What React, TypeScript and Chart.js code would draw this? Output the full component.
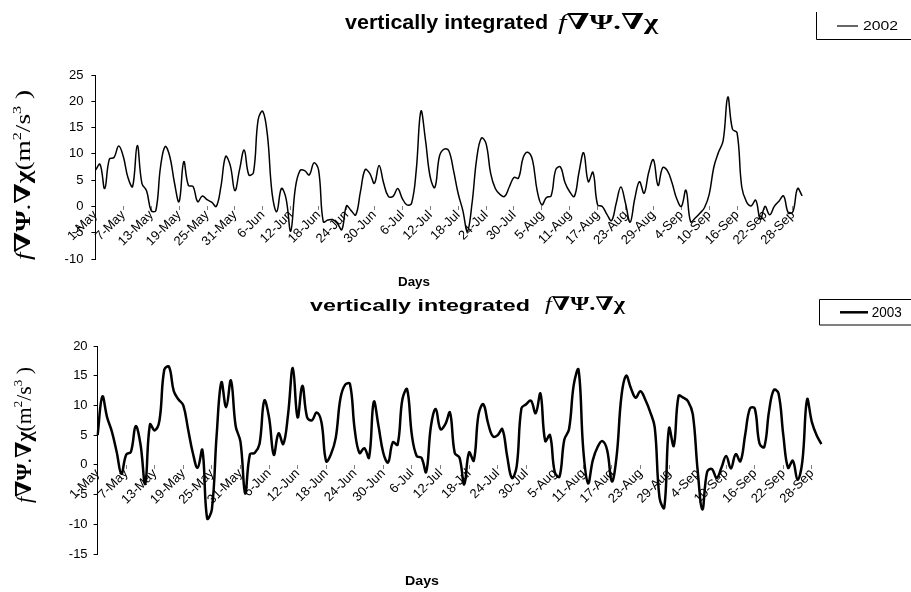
import React, { useEffect, useRef } from 'react';
import { Chart, registerables } from 'chart.js';

Chart.register(...registerables);

// ---------- categories ----------
const MONTHS = ['May', 'Jun', 'Jul', 'Aug', 'Sep'];
const MONTH_LENGTHS = [31, 30, 31, 31, 30];
const DAYS: string[] = [];
MONTHS.forEach((m, k) => {
  for (let d = 1; d <= MONTH_LENGTHS[k]; d++) DAYS.push(`${d}-${m}`);
});
const LABEL_EVERY = 6;

// ---------- series ----------
const SERIES_2002 = [
  6.9, 8.0, 3.4, 9.0, 9.3, 11.5, 9.5, 5.5, 3.8, 11.6,
  4.4, 3.0, -0.8, -0.8, 7.5, 11.4, 9.5, 4.5, 0.9, 8.5,
  4.0, 3.8, 0.9, 2.0, 1.3, 0.8, 0.0, 3.8, 9.5, 7.8,
  3.0, 7.0, 10.7, 6.0, 6.5, 16.5, 18.1, 13.5, 2.5, -1.0,
  3.4, 1.5, -4.7, 3.5, 6.8, 6.8, 6.0, 8.3, 6.9, -2.9,
  -2.6, -2.5, -3.2, -4.4, 0.1, -0.8, -1.6, 2.8, 7.0, 6.3,
  4.4, 7.8, 4.4, 1.9, 1.9, 3.4, 1.5, 0.3, 0.6, 6.9,
  18.1, 12.5, 5.6, 3.6, 9.6, 10.9, 10.6, 6.9, 2.5, -0.7,
  -4.7, 0.6, 9.1, 13.0, 12.0, 6.3, 3.4, 2.3, 1.9, 3.7,
  5.5, 5.4, 9.3, 10.3, 8.8, 3.0, 0.3, 1.7, 2.0, 7.0,
  7.5, 4.5, 2.8, 1.9, 6.5, 10.2, 4.7, 6.5, 0.3, 0.0,
  -1.5, -2.7, 0.6, 3.7, 0.6, -3.0, 1.5, 4.7, 2.5, 6.5,
  8.9, 4.0, 7.4, 6.8, 4.5, 1.5, 0.0, 3.1, -2.9, -2.2,
  -1.3, -0.2, 2.3, 7.5, 10.3, 12.5, 20.8, 14.7, 14.0, 3.7,
  0.9, 0.1, 1.2, -2.5, 0.0, -1.6, 0.0, 1.0, 2.0, -1.2,
  -1.0, 3.4, 2.0,
];

const SERIES_2003 = [
  5.0, 11.5, 8.0, 5.6, 2.2, -1.5, 1.7, 2.2, 6.5, 3.5,
  -3.2, 6.8, 5.8, 7.5, 16.0, 16.5, 12.4, 11.0, 10.0, 6.0,
  2.0, -0.5, 2.5, -9.0, -7.5, 5.0, 13.9, 9.7, 14.2, 6.5,
  3.9, -4.8, 1.8, 2.0, 3.5, 10.8, 8.0, 1.7, 5.3, 3.5,
  8.5, 16.3, 8.0, 13.3, 8.0, 7.5, 8.8, 7.2, 0.6, 1.8,
  4.5, 11.2, 13.5, 13.6, 5.9, 2.0, 2.8, 1.2, 10.6, 6.5,
  2.0, 0.4, 3.8, 3.4, 11.0, 12.7, 5.0, 1.5, 1.2, -1.2,
  6.5, 9.4, 6.0, 6.8, 8.8, 2.0, 1.2, -3.3, 2.1, 0.7,
  8.5, 10.2, 7.0, 4.8, 5.0, 6.0, 1.5, -2.2, -0.3, 9.5,
  10.2, 10.8, 8.7, 12.0, 4.0, 5.0, -1.2, -2.0, 4.2, 6.0,
  13.5, 16.0, 2.5, -3.1, 0.8, 3.0, 4.0, 2.5, -2.8, 1.5,
  11.5, 15.0, 12.9, 11.3, 12.4, 11.0, 9.0, 6.3, -5.5, -7.2,
  6.2, 3.2, 11.6, 11.3, 10.7, 8.5, -0.8, -7.5, -1.2, -0.7,
  -2.2, -0.5, 1.5, -0.6, 1.8, 0.6, 5.1, 9.5, 9.5, 3.6,
  3.0, 9.0, 12.6, 12.0, 5.0, -0.5, 0.7, -2.5, 0.6, 11.0,
  7.2, 5.0, 3.5,
];

const Y_RANGE_2002 = [-10, 25];
const Y_RANGE_2003 = [-15, 20];
const Y_STEP = 5;

// ---------- fonts ----------
const SANS = '"Liberation Sans", Arial, Helvetica, sans-serif';
const SERIF = '"Liberation Serif", "DejaVu Serif", "Times New Roman", serif';

interface Seg { t: string; f: string; dy?: number }

function drawRun(ctx: CanvasRenderingContext2D, segs: Seg[], x: number, y: number, len: number, vertical = false) {
  ctx.save();
  const widths = segs.map((s) => { ctx.font = s.f; return ctx.measureText(s.t).width; });
  const total = widths.reduce((a, b) => a + b, 0) || 1;
  ctx.translate(x, y);
  if (vertical) ctx.rotate(-Math.PI / 2);
  ctx.scale(len / total, 1);
  ctx.textAlign = 'left';
  ctx.textBaseline = 'alphabetic';
  ctx.fillStyle = '#000';
  let cx = 0;
  segs.forEach((s, i) => { ctx.font = s.f; ctx.fillText(s.t, cx, s.dy || 0); cx += widths[i]; });
  ctx.restore();
}

const titleWords = (size: number): Seg[] => [{ t: 'vertically integrated', f: `bold ${size}px ${SANS}` }];
const titleSymbol = (size: number): Seg[] => [
  { t: 'f', f: `italic ${size}px ${SERIF}` },
  { t: '∇Ψ.∇χ', f: `bold ${size}px ${SERIF}` },
];
const yTitle = (size: number): Seg[] => {
  const reg = `${size}px ${SERIF}`;
  const bold = `bold ${size}px ${SERIF}`;
  const sup = `${Math.round(size * 0.6)}px ${SERIF}`;
  return [
    { t: 'f', f: `italic ${size}px ${SERIF}` },
    { t: '∇Ψ', f: bold },
    { t: '.', f: reg },
    { t: '∇χ', f: bold },
    { t: '(m', f: reg },
    { t: '2', f: sup, dy: -size * 0.42 },
    { t: '/s', f: reg },
    { t: '3', f: sup, dy: -size * 0.42 },
    { t: ' )', f: reg },
  ];
};

interface Panel {
  label: string;
  values: number[];
  range: number[];
  lineWidth: number;
  height: number;
  padding: { left: number; top: number; right: number; bottom: number };
  yAxisWidth: number;
  yTickPadding: number;
  deco: any;
}

function decor(p: Panel) {
  const d = p.deco;
  return {
    id: 'decor',
    afterDraw(chart: any) {
      const ctx: CanvasRenderingContext2D = chart.ctx;
      ctx.save();
      drawRun(ctx, titleWords(d.titleSize), d.titleX, d.titleY, d.titleW);
      drawRun(ctx, titleSymbol(d.symSize), d.symX, d.symY, d.symW);
      drawRun(ctx, yTitle(d.yTitleSize), d.yTitleX, d.yTitleY, d.yTitleL, true);
      drawRun(ctx, [{ t: 'Days', f: `bold ${d.daysSize}px ${SANS}` }], d.daysX, d.daysY, d.daysW);
      // legend box
      const lg = d.legend;
      ctx.strokeStyle = '#000';
      ctx.lineWidth = 1;
      ctx.beginPath();
      if (lg.full) {
        ctx.rect(lg.x, lg.y, lg.w, lg.h);
      } else {
        ctx.moveTo(lg.x, lg.y);
        ctx.lineTo(lg.x, lg.y + lg.h);
        ctx.lineTo(lg.x + lg.w, lg.y + lg.h);
      }
      ctx.stroke();
      ctx.beginPath();
      ctx.lineWidth = lg.lw;
      ctx.moveTo(lg.s1, lg.sy);
      ctx.lineTo(lg.s2, lg.sy);
      ctx.stroke();
      drawRun(ctx, [{ t: chart.data.datasets[0].label, f: `${lg.size}px ${SANS}` }], lg.tx, lg.ty, lg.tw);
      ctx.restore();
    },
  };
}

function makeConfig(p: Panel): any {
  return {
    type: 'line',
    data: {
      labels: DAYS,
      datasets: [{
        label: p.label,
        data: p.values,
        borderColor: '#000',
        borderWidth: p.lineWidth,
        pointRadius: 0,
        tension: 0.4,
        fill: false,
      }],
    },
    options: {
      animation: false,
      responsive: false,
      devicePixelRatio: 1,
      layout: { padding: p.padding },
      plugins: { legend: { display: false }, tooltip: { enabled: false }, title: { display: false } },
      scales: {
        x: {
          type: 'category',
          position: { y: 0 },
          offset: false,
          border: { display: false },
          grid: {
            drawOnChartArea: false,
            drawTicks: true,
            tickLength: 4,
            tickColor: (c: any) => (c.index % LABEL_EVERY === 0 ? '#808080' : 'rgba(0,0,0,0)'),
          },
          ticks: {
            autoSkip: false,
            minRotation: 45,
            maxRotation: 45,
            padding: -3,
            font: { family: SANS, size: 13 },
            color: '#000',
            callback: (_v: any, i: number) => (i % LABEL_EVERY === 0 ? DAYS[i] : ''),
          },
        },
        y: {
          min: p.range[0],
          max: p.range[1],
          afterFit: (s: any) => { s.width = p.yAxisWidth; },
          border: { display: true, color: '#000', width: 1 },
          grid: { drawOnChartArea: false, drawTicks: true, tickLength: 4, tickColor: '#000' },
          ticks: { stepSize: Y_STEP, padding: p.yTickPadding, font: { family: SANS, size: 13 }, color: '#000' },
        },
      },
    },
    plugins: [decor(p)],
  };
}

const PANEL_2002: Panel = {
  label: '2002',
  values: SERIES_2002,
  range: Y_RANGE_2002,
  lineWidth: 1.5,
  height: 290,
  padding: { left: 0, top: 75, right: 108.8, bottom: 31 },
  yAxisWidth: 95.4,
  yTickPadding: 8,
  deco: {
    titleSize: 20, titleX: 345, titleY: 29, titleW: 203,
    symSize: 22, symX: 558, symY: 29, symW: 100,
    yTitleSize: 22, yTitleX: 30, yTitleY: 260, yTitleL: 170,
    daysSize: 12, daysX: 398, daysY: 286, daysW: 32,
    legend: { full: false, x: 816.5, y: 12, w: 100, h: 27.5, s1: 837, s2: 858, sy: 26, lw: 1.2, size: 12, tx: 863, ty: 30, tw: 35 },
  },
};

const PANEL_2003: Panel = {
  label: '2003',
  values: SERIES_2003,
  range: Y_RANGE_2003,
  lineWidth: 2.5,
  height: 302,
  padding: { left: 0, top: 56, right: 89.6, bottom: 38 },
  yAxisWidth: 97.6,
  yTickPadding: 6,
  deco: {
    titleSize: 17, titleX: 310, titleY: 21, titleW: 220,
    symSize: 19, symX: 545, symY: 20, symW: 80,
    yTitleSize: 22, yTitleX: 31, yTitleY: 213, yTitleL: 136,
    daysSize: 12, daysX: 405, daysY: 295, daysW: 34,
    legend: { full: true, x: 819.5, y: 9.5, w: 100, h: 25.5, s1: 840, s2: 868, sy: 22.3, lw: 2.5, size: 14, tx: 871.7, ty: 27, tw: 30 },
  },
};

function ChartPanel({ panel, top }: { panel: Panel; top: number }) {
  const ref = useRef<HTMLCanvasElement | null>(null);
  useEffect(() => {
    if (!ref.current) return;
    const chart = new Chart(ref.current, makeConfig(panel));
    return () => chart.destroy();
  }, [panel]);
  return (
    <canvas
      ref={ref}
      width={911}
      height={panel.height}
      style={{ position: 'absolute', left: 0, top, width: 911, height: panel.height, display: 'block' }}
    />
  );
}

export default function App() {
  return (
    <div style={{ position: 'absolute', left: 0, top: 0, width: 911, height: 592, background: '#fff', overflow: 'hidden' }}>
      <ChartPanel panel={PANEL_2002} top={0} />
      <ChartPanel panel={PANEL_2003} top={290} />
    </div>
  );
}
